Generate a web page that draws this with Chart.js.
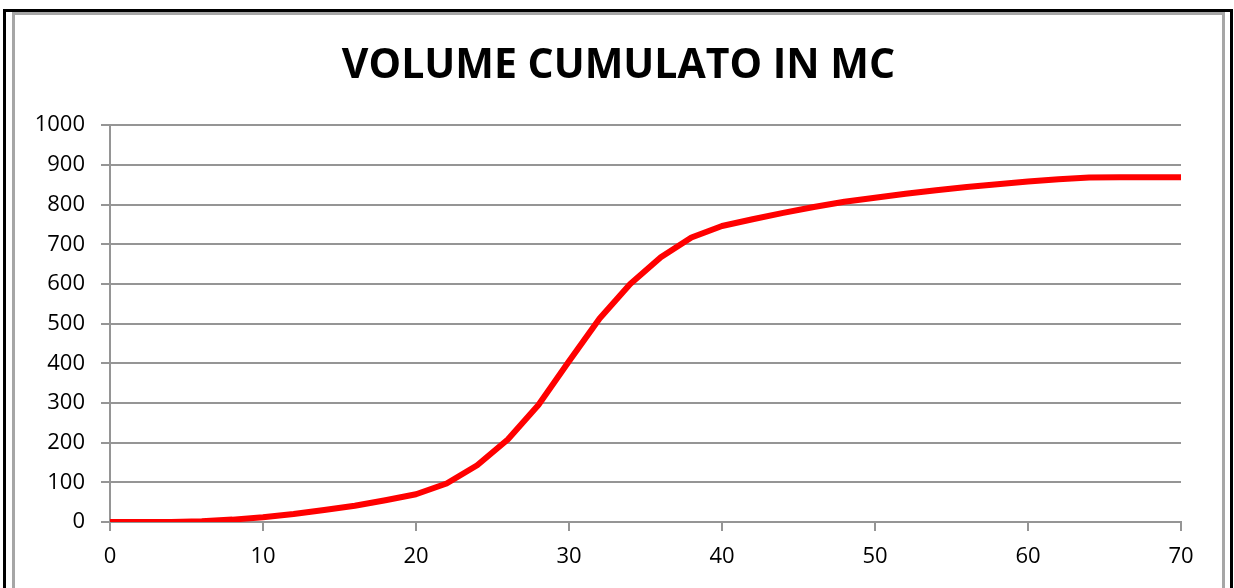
<!DOCTYPE html>
<html>
<head>
<meta charset="utf-8">
<title>Volume cumulato in mc</title>
<script src="https://cdn.jsdelivr.net/npm/chart.js@4/dist/chart.umd.min.js"></script>
<style>
  html, body { margin: 0; padding: 0; background: #fff; overflow: hidden; }
  .outer {
    position: absolute; left: 3px; top: 9px; width: 1224px; height: 600px;
    border: 3px solid #000; border-bottom: none;
  }
  .inner {
    position: absolute; left: 12px; top: 12px; width: 1207px; height: 600px;
    border: 3px solid #a6a6a6; border-bottom: none;
  }
  #volChart { position: absolute; left: 15px; top: 15px; }
</style>
</head>
<body>
<div class="outer"></div>
<div class="inner"></div>
<canvas id="volChart" width="1207" height="573"></canvas>
<script>
var giorni = [0, 2, 4, 6, 8, 10, 12, 14, 16, 18, 20, 22, 24, 26, 28, 30, 32, 34,
  36, 38, 40, 42, 44, 46, 48, 50, 52, 54, 56, 58, 60, 62, 64, 66, 68, 70];
var volumeCumulato = [0, 0, 0, 2, 6, 12, 20, 30, 41, 55, 70, 97, 143, 208, 295, 405, 513, 600,
  667, 717, 746, 763, 779, 794, 807, 817, 827, 836, 844, 851, 858, 864, 868, 869, 869, 869];
var xTicks = [0, 10, 20, 30, 40, 50, 60, 70];
var yTicks = [0, 100, 200, 300, 400, 500, 600, 700, 800, 900, 1000];

(function () {
  var gridGrey = "#959595";
  var tickFont = { family: "'Open Sans', sans-serif", size: 22 };

  var points = giorni.map(function (g, i) {
    return { x: g, y: volumeCumulato[i] };
  });

  function plain(v) { return String(v); }

  new Chart(document.getElementById("volChart"), {
    type: "line",
    data: {
      datasets: [
        {
          label: "Volume cumulato",
          data: points,
          borderColor: "#ff0000",
          borderWidth: 6,
          borderCapStyle: "round",
          borderJoinStyle: "round",
          pointRadius: 0,
          fill: false,
          tension: 0,
        },
      ],
    },
    options: {
      responsive: false,
      animation: false,
      layout: { padding: 0 },
      scales: {
        x: {
          type: "linear",
          min: 0,
          max: 70,
          afterBuildTicks: function (axis) {
            axis.ticks = xTicks.map(function (v) { return { value: v }; });
          },
          afterFit: function (axis) {
            axis.height = 66;
            axis.paddingRight = 41;
          },
          grid: {
            drawOnChartArea: false,
            drawTicks: true,
            tickLength: 9,
            color: gridGrey,
            lineWidth: 2,
          },
          border: { display: true, color: gridGrey, width: 2 },
          ticks: { color: "#000", font: tickFont, padding: 13, maxRotation: 0, callback: plain },
        },
        y: {
          min: 0,
          max: 1000,
          afterBuildTicks: function (axis) {
            axis.ticks = yTicks.map(function (v) { return { value: v }; });
          },
          afterFit: function (axis) { axis.width = 95; },
          grid: {
            drawTicks: true,
            tickLength: 9,
            color: gridGrey,
            lineWidth: 2,
          },
          border: { display: true, color: gridGrey, width: 2 },
          ticks: { color: "#000", font: tickFont, padding: 16, callback: plain },
        },
      },
      plugins: {
        legend: { display: false },
        tooltip: { enabled: false },
        title: {
          display: true,
          text: "VOLUME CUMULATO IN MC",
          color: "#000",
          font: { family: "'Open Sans', sans-serif", size: 41, weight: "bold", lineHeight: 1.2 },
          padding: { top: 27, bottom: 34 },
        },
      },
    },
  });
})();
</script>
</body>
</html>
